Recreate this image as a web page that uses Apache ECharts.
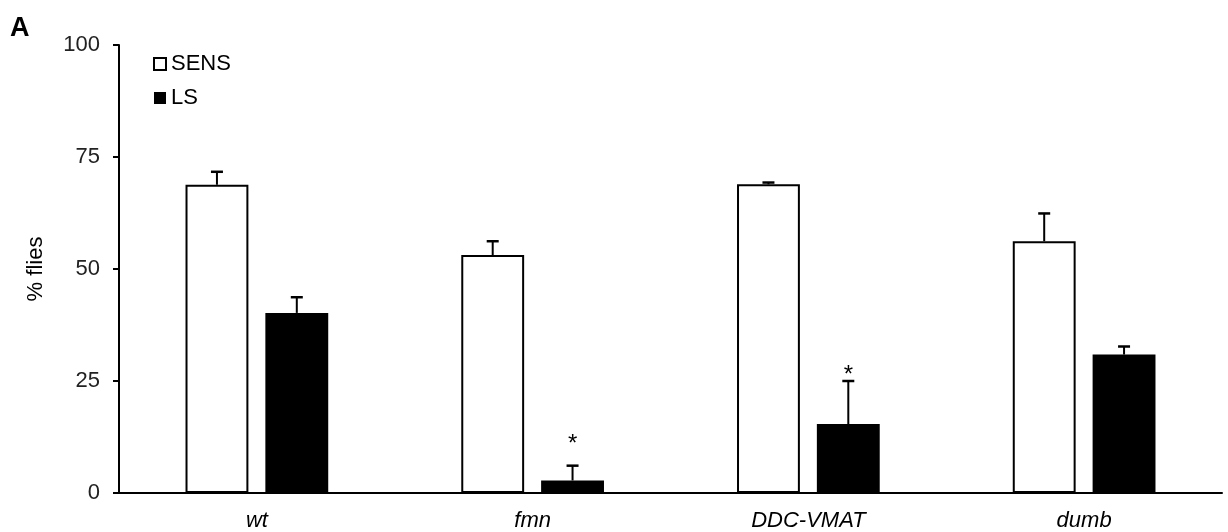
<!DOCTYPE html>
<html><head><meta charset="utf-8">
<script src="https://cdn.jsdelivr.net/npm/echarts@6/dist/echarts.min.js"></script>
<style>html,body{margin:0;padding:0;background:#fff}#c{width:1228px;height:532px}</style>
</head><body><div id="c"></div>
<script>
const categories = ['wt', 'fmn', 'DDC-VMAT', 'dumb'];
const sensValues = [68.8, 53.1, 68.9, 56.2];
const sensErr = [2.9, 3.1, 0.4, 6.2];
const lsValues = [40.2, 2.8, 15.4, 30.9];
const lsErr = [3.5, 3.3, 9.6, 1.8];
const lsSig = ['', '*', '*', ''];
const lsSigY = [null, 12, 27.5, null];
const yTicks = [0, 25, 50, 75, 100];

const FONT = '"Liberation Sans", Arial, sans-serif';
const BW = 0.228, GAP = 0.27;

function errItem(values, errs, sig, sigY, side) {
  return function (params, api) {
    const i = api.value(0);
    const band = api.size([1, 0])[0];
    const w = band * BW;
    const off = (w + w * GAP) / 2 * side;
    const base = api.coord([i, values[i]]);
    const top = api.coord([i, values[i] + errs[i]]);
    const x = base[0] + off;
    const children = [
      { type: 'line', shape: { x1: x, y1: base[1], x2: x, y2: top[1] }, style: { stroke: '#000', lineWidth: 2 } },
      { type: 'line', shape: { x1: x - 6, y1: top[1], x2: x + 6, y2: top[1] }, style: { stroke: '#000', lineWidth: 2.5 } }
    ];
    if (sig && sig[i]) {
      const fs = 24;
      const sy = api.coord([i, sigY[i]])[1];
      children.push({ type: 'text', style: { text: sig[i], x: x, y: sy + 0.22 * fs, align: 'center', verticalAlign: 'middle', font: fs + 'px ' + FONT, fill: '#000' } });
    }
    return { type: 'group', children: children };
  };
}

const chart = echarts.init(document.getElementById('c'), null, { renderer: 'canvas' });
chart.setOption({
  animation: false,
  backgroundColor: '#fff',
  graphic: [{ type: 'text', left: 10, top: 15, style: { text: 'A', font: 'bold 27px ' + FONT, fill: '#000' } }],
  grid: { left: 119, right: 6, top: 45, bottom: 39 },
  legend: {
    orient: 'vertical', left: 153, top: 53, padding: 0, itemGap: 12, itemWidth: 12, itemHeight: 12,
    icon: 'rect',
    textStyle: { fontFamily: FONT, fontSize: 22, color: '#000' },
    data: [
      { name: 'SENS', itemStyle: { color: '#fff', borderColor: '#000', borderWidth: 2 } },
      { name: 'LS', itemStyle: { color: '#000', borderWidth: 0 } }
    ]
  },
  xAxis: {
    type: 'category', data: categories,
    axisLine: { lineStyle: { color: '#000', width: 2 } },
    axisTick: { show: false },
    axisLabel: { fontFamily: FONT, fontSize: 22, fontStyle: 'italic', color: '#000', margin: 17 }
  },
  yAxis: {
    type: 'value', min: 0, max: 100, interval: 25,
    name: '% flies', nameLocation: 'middle', nameGap: 72, nameRotate: 90,
    nameTextStyle: { fontFamily: FONT, fontSize: 22, color: '#000' },
    axisLine: { show: true, lineStyle: { color: '#000', width: 2 } },
    axisTick: { show: true, length: 6, lineStyle: { color: '#000', width: 2 } },
    splitLine: { show: false },
    axisLabel: { fontFamily: FONT, fontSize: 22, color: '#222', margin: 19,
      formatter: v => yTicks.indexOf(v) >= 0 ? String(v) : '' }
  },
  series: [
    { name: 'SENS', type: 'bar', data: sensValues, barWidth: (BW * 100) + '%', barGap: (GAP * 100) + '%',
      itemStyle: { color: '#fff', borderColor: '#000', borderWidth: 2 } },
    { name: 'LS', type: 'bar', data: lsValues, barWidth: (BW * 100) + '%',
      itemStyle: { color: '#000', borderColor: '#000', borderWidth: 0 } },
    { type: 'custom', renderItem: errItem(sensValues, sensErr, null, null, -1), data: categories.map((c, i) => [i]), z: 5 },
    { type: 'custom', renderItem: errItem(lsValues, lsErr, lsSig, lsSigY, 1), data: categories.map((c, i) => [i]), z: 5 }
  ]
});
</script></body></html>
